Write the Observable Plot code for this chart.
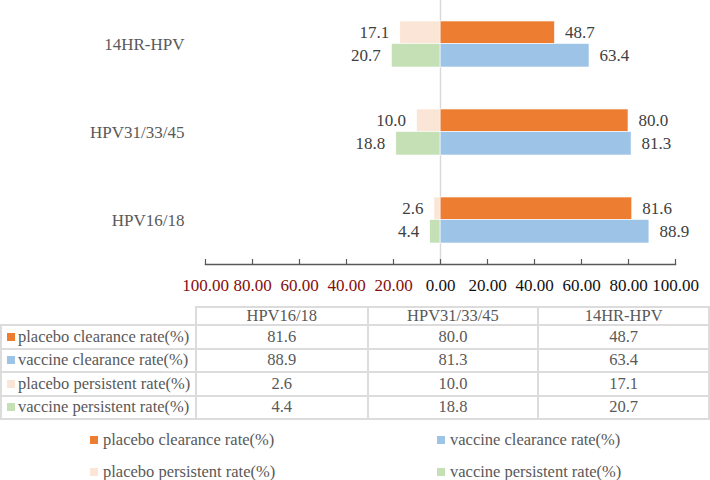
<!DOCTYPE html>
<html>
<head>
<meta charset="utf-8">
<script src="https://cdn.jsdelivr.net/npm/d3@7"></script>
<script src="https://cdn.jsdelivr.net/npm/@observablehq/plot@0.6"></script>
<style>
  html, body { margin: 0; padding: 0; background: #fff; }
  body { width: 710px; height: 480px; position: relative; overflow: hidden;
         font-family: "Liberation Serif", "Times New Roman", serif; }
  #chart { position: absolute; left: 0; top: 0; }
  table { position: absolute; left: 0; top: 306px; border-collapse: collapse;
          font-size: 16.5px; color: #595959; table-layout: fixed; }
  td { border: 2px solid #dcdcdc; text-align: center; padding: 0; height: 21.5px; line-height: 20px; white-space: nowrap; }
  td.lab { text-align: left; padding-left: 5px; }
  tr.head td { height: 16px; line-height: 16px; }
  tr.head td.blank { border-top: none; border-left: none; }
  .sw { display: inline-block; width: 8px; height: 8px; margin-right: 3px; vertical-align: 1px; }
  .leg { position: absolute; font-size: 16.5px; color: #595959; white-space: nowrap; line-height: 20px; }
</style>
</head>
<body>
<div id="chart"></div>
<div id="tbl"></div>
<div id="legend"></div>
<script>
const categories = ["HPV16/18", "HPV31/33/45", "14HR-HPV"];
const placeboClearance = [81.6, 80.0, 48.7];
const vaccineClearance = [88.9, 81.3, 63.4];
const placeboPersistent = [2.6, 10.0, 17.1];
const vaccinePersistent = [4.4, 18.8, 20.7];
const seriesNames = ["placebo clearance rate(%)", "vaccine clearance rate(%)", "placebo persistent rate(%)", "vaccine persistent rate(%)"];
const seriesColors = ["#ed7d31", "#9dc3e6", "#fbe5d6", "#c5e0b4"];
const xTicks = [-100, -80, -60, -40, -20, 0, 20, 40, 60, 80, 100];

const rows = [];
categories.forEach((c, i) => {
  rows.push({cat: c, series: 0, v: placeboClearance[i], side: 1, slot: 0});
  rows.push({cat: c, series: 1, v: vaccineClearance[i], side: 1, slot: 1});
  rows.push({cat: c, series: 2, v: placeboPersistent[i], side: -1, slot: 0});
  rows.push({cat: c, series: 3, v: vaccinePersistent[i], side: -1, slot: 1});
});
const top0 = rows.filter(d => d.slot === 0);
const top1 = rows.filter(d => d.slot === 1);
const font = "'Liberation Serif', 'Times New Roman', serif";

const chart = Plot.plot({
  width: 710,
  height: 300,
  marginLeft: 205,
  marginRight: 35,
  marginTop: 0,
  marginBottom: 36,
  style: {fontFamily: font, fontSize: "17px", background: "white"},
  x: {domain: [-100, 100], axis: null, label: null},
  y: {domain: categories.slice().reverse(), padding: 0, axis: null, label: null},
  marks: [
    Plot.ruleX([0], {stroke: "#d9d9d9", strokeWidth: 1.5}),
    Plot.barX(top0, {x1: 0, x2: d => d.side * d.v, y: "cat", fill: d => seriesColors[d.series],
      insetTop: 21, insetBottom: 44.5, stroke: "white", strokeWidth: 0.6}),
    Plot.barX(top1, {x1: 0, x2: d => d.side * d.v, y: "cat", fill: d => seriesColors[d.series],
      insetTop: 43.5, insetBottom: 21, stroke: "white", strokeWidth: 0.6}),
    Plot.text(top0.filter(d => d.side > 0), {x: d => d.v, y: "cat", text: d => d.v.toFixed(1), dy: -12, dx: 10, textAnchor: "start", fill: "#404040"}),
    Plot.text(top1.filter(d => d.side > 0), {x: d => d.v, y: "cat", text: d => d.v.toFixed(1), dy: 11.5, dx: 10, textAnchor: "start", fill: "#404040"}),
    Plot.text(top0.filter(d => d.side < 0), {x: d => -d.v, y: "cat", text: d => d.v.toFixed(1), dy: -12, dx: -11, textAnchor: "end", fill: "#404040"}),
    Plot.text(top1.filter(d => d.side < 0), {x: d => -d.v, y: "cat", text: d => d.v.toFixed(1), dy: 11.5, dx: -11, textAnchor: "end", fill: "#404040"}),
    Plot.axisY({tickSize: 0, tickPadding: 21, fill: "#595959", fontSize: 17, label: null}),
    Plot.tickX(xTicks, {x: d => d, insetTop: 259, stroke: "#595959", strokeWidth: 1.2}),
    Plot.frame({anchor: "bottom", stroke: "#595959", strokeWidth: 1.5}),
    Plot.axisX(xTicks, {tickSize: 0, tickPadding: 14, tickFormat: d => Math.abs(d).toFixed(2),
      fill: d => d < 0 ? "#850d0d" : "#111", fontSize: 17, label: null})
  ]
});
document.getElementById("chart").appendChild(chart);

// data table
const colW = [195, 172, 171, 171];
let html = '<table><colgroup>' + colW.map(w => `<col style="width:${w}px">`).join('') + '</colgroup>';
html += '<tr class="head"><td class="blank"></td>' + categories.map(c => `<td>${c}</td>`).join('') + '</tr>';
const seriesVals = [placeboClearance, vaccineClearance, placeboPersistent, vaccinePersistent];
seriesNames.forEach((n, s) => {
  html += `<tr><td class="lab"><span class="sw" style="background:${seriesColors[s]}"></span>${n}</td>` +
    seriesVals[s].map(v => `<td>${v.toFixed(1)}</td>`).join('') + '</tr>';
});
html += '</table>';
document.getElementById("tbl").innerHTML = html;

// legend
const legPos = [[90, 430], [437, 430], [90, 462], [437, 462]];
document.getElementById("legend").innerHTML = seriesNames.map((n, s) =>
  `<div class="leg" style="left:${legPos[s][0]}px;top:${legPos[s][1]}px"><span class="sw" style="background:${seriesColors[s]};margin-right:5px"></span>${n}</div>`
).join('');
</script>
</body>
</html>
